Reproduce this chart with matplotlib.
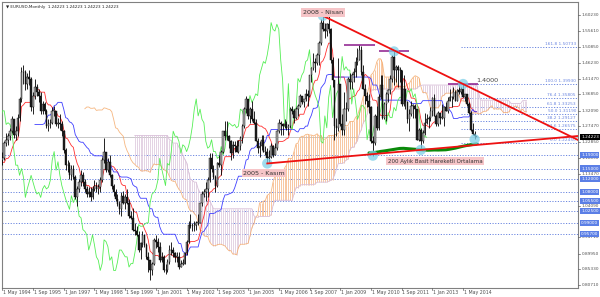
import numpy as np
import pandas as pd
import matplotlib
matplotlib.use("Agg")
import matplotlib.pyplot as plt

# ---------------- data: EURUSD monthly bars, Sep 1993 .. Dec 2014 ----------------
closes = [
    1.205, 1.170, 1.145, 1.125,                                                    # 1993 Sep-Dec
    1.120, 1.150, 1.170, 1.175, 1.180, 1.225, 1.235, 1.245, 1.260, 1.295, 1.250, 1.260,  # 1994
    1.300, 1.355, 1.435, 1.435, 1.400, 1.420, 1.415, 1.330, 1.365, 1.390, 1.375, 1.365,  # 1995
    1.320, 1.340, 1.320, 1.275, 1.280, 1.285, 1.320, 1.320, 1.280, 1.285, 1.280, 1.260,  # 1996
    1.205, 1.160, 1.160, 1.130, 1.150, 1.125, 1.065, 1.090, 1.110, 1.130, 1.110, 1.090,  # 1997
    1.075, 1.080, 1.065, 1.090, 1.100, 1.090, 1.095, 1.115, 1.175, 1.200, 1.145, 1.170,  # 1998
    1.130, 1.100, 1.080, 1.060, 1.045, 1.030, 1.070, 1.050, 1.065, 1.050, 1.010, 1.005,  # 1999
    0.970, 0.965, 0.955, 0.910, 0.930, 0.955, 0.925, 0.890, 0.880, 0.850, 0.870, 0.940,  # 2000
    0.935, 0.920, 0.880, 0.890, 0.850, 0.850, 0.875, 0.910, 0.910, 0.900, 0.890, 0.890,  # 2001
    0.860, 0.870, 0.870, 0.900, 0.935, 0.985, 0.980, 0.980, 0.985, 0.990, 0.990, 1.050,  # 2002
    1.075, 1.080, 1.090, 1.115, 1.180, 1.150, 1.125, 1.100, 1.165, 1.160, 1.200, 1.260,  # 2003
    1.245, 1.245, 1.230, 1.195, 1.220, 1.215, 1.200, 1.215, 1.240, 1.275, 1.325, 1.355,  # 2004
    1.305, 1.325, 1.295, 1.285, 1.230, 1.210, 1.215, 1.235, 1.200, 1.200, 1.180, 1.185,  # 2005
    1.215, 1.190, 1.210, 1.260, 1.285, 1.280, 1.275, 1.280, 1.270, 1.275, 1.325, 1.320,  # 2006
    1.300, 1.325, 1.335, 1.365, 1.345, 1.355, 1.370, 1.365, 1.425, 1.445, 1.465, 1.460,  # 2007
    1.485, 1.520, 1.580, 1.560, 1.555, 1.575, 1.560, 1.470, 1.410, 1.275, 1.270, 1.400,  # 2008
    1.280, 1.265, 1.325, 1.325, 1.415, 1.405, 1.425, 1.435, 1.465, 1.470, 1.500, 1.435,  # 2009
    1.385, 1.365, 1.350, 1.330, 1.230, 1.225, 1.305, 1.270, 1.360, 1.395, 1.300, 1.340,  # 2010
    1.370, 1.380, 1.415, 1.480, 1.440, 1.450, 1.440, 1.440, 1.340, 1.385, 1.345, 1.295,  # 2011
    1.310, 1.335, 1.335, 1.325, 1.235, 1.265, 1.230, 1.255, 1.285, 1.295, 1.300, 1.320,  # 2012
    1.357, 1.305, 1.280, 1.315, 1.300, 1.300, 1.330, 1.320, 1.350, 1.360, 1.360, 1.375,  # 2013
    1.350, 1.380, 1.375, 1.385, 1.360, 1.370, 1.340, 1.315, 1.263, 1.252, 1.245, 1.24223,  # 2014
]
highs = [
    1.235, 1.215, 1.180, 1.150,
    1.140, 1.160, 1.180, 1.185, 1.200, 1.230, 1.255, 1.255, 1.270, 1.305, 1.295, 1.275,
    1.310, 1.360, 1.450, 1.455, 1.440, 1.430, 1.440, 1.420, 1.375, 1.415, 1.400, 1.385,
    1.375, 1.350, 1.345, 1.325, 1.295, 1.295, 1.330, 1.335, 1.320, 1.300, 1.310, 1.290,
    1.265, 1.210, 1.175, 1.170, 1.160, 1.160, 1.130, 1.100, 1.120, 1.145, 1.140, 1.120,
    1.100, 1.095, 1.095, 1.100, 1.115, 1.110, 1.105, 1.125, 1.185, 1.240, 1.200, 1.180,
    1.190, 1.135, 1.105, 1.090, 1.075, 1.055, 1.080, 1.085, 1.075, 1.090, 1.060, 1.025,
    1.035, 0.990, 0.980, 0.965, 0.935, 0.965, 0.955, 0.930, 0.905, 0.875, 0.875, 0.945,
    0.955, 0.945, 0.935, 0.905, 0.895, 0.870, 0.885, 0.925, 0.935, 0.920, 0.905, 0.905,
    0.905, 0.880, 0.885, 0.905, 0.940, 0.995, 1.015, 0.990, 0.995, 0.995, 1.015, 1.050,
    1.085, 1.090, 1.110, 1.125, 1.195, 1.195, 1.160, 1.130, 1.170, 1.190, 1.205, 1.260,
    1.290, 1.290, 1.250, 1.235, 1.230, 1.230, 1.235, 1.235, 1.245, 1.280, 1.330, 1.365,
    1.355, 1.330, 1.350, 1.320, 1.295, 1.240, 1.230, 1.250, 1.250, 1.215, 1.210, 1.205,
    1.225, 1.220, 1.225, 1.265, 1.295, 1.290, 1.285, 1.295, 1.290, 1.280, 1.330, 1.335,
    1.325, 1.330, 1.340, 1.370, 1.365, 1.355, 1.385, 1.380, 1.425, 1.450, 1.490, 1.475,
    1.490, 1.525, 1.590, 1.600, 1.580, 1.580, 1.604, 1.565, 1.480, 1.410, 1.300, 1.475,
    1.400, 1.310, 1.375, 1.345, 1.420, 1.430, 1.430, 1.445, 1.480, 1.505, 1.515, 1.510,
    1.455, 1.400, 1.375, 1.370, 1.335, 1.245, 1.310, 1.335, 1.370, 1.425, 1.425, 1.345,
    1.375, 1.385, 1.425, 1.485, 1.495, 1.455, 1.455, 1.450, 1.440, 1.425, 1.385, 1.350,
    1.325, 1.350, 1.340, 1.340, 1.325, 1.270, 1.270, 1.265, 1.315, 1.310, 1.305, 1.330,
    1.360, 1.370, 1.310, 1.320, 1.315, 1.340, 1.335, 1.345, 1.360, 1.385, 1.365, 1.390,
    1.380, 1.385, 1.395, 1.390, 1.399, 1.370, 1.370, 1.345, 1.320, 1.285, 1.260, 1.24223,
]
lows = [
    1.175, 1.160, 1.135, 1.115,
    1.105, 1.110, 1.140, 1.160, 1.160, 1.175, 1.215, 1.220, 1.235, 1.255, 1.240, 1.235,
    1.245, 1.290, 1.345, 1.400, 1.380, 1.385, 1.395, 1.320, 1.310, 1.355, 1.365, 1.345,
    1.310, 1.310, 1.310, 1.270, 1.260, 1.270, 1.280, 1.305, 1.275, 1.270, 1.265, 1.245,
    1.195, 1.145, 1.140, 1.120, 1.115, 1.120, 1.060, 1.040, 1.080, 1.100, 1.100, 1.080,
    1.065, 1.065, 1.055, 1.060, 1.085, 1.080, 1.075, 1.080, 1.110, 1.165, 1.140, 1.140,
    1.125, 1.090, 1.070, 1.055, 1.040, 1.015, 1.010, 1.045, 1.030, 1.045, 1.005, 1.000,
    0.965, 0.955, 0.950, 0.905, 0.885, 0.920, 0.920, 0.885, 0.845, 0.823, 0.835, 0.865,
    0.915, 0.905, 0.875, 0.875, 0.845, 0.840, 0.845, 0.870, 0.895, 0.890, 0.875, 0.875,
    0.855, 0.860, 0.865, 0.870, 0.895, 0.930, 0.975, 0.965, 0.965, 0.970, 0.985, 0.990,
    1.040, 1.065, 1.055, 1.065, 1.110, 1.140, 1.120, 1.080, 1.095, 1.155, 1.130, 1.195,
    1.235, 1.235, 1.210, 1.175, 1.180, 1.200, 1.200, 1.195, 1.205, 1.225, 1.270, 1.315,
    1.295, 1.285, 1.290, 1.280, 1.230, 1.195, 1.185, 1.205, 1.200, 1.190, 1.165, 1.170,
    1.180, 1.185, 1.190, 1.205, 1.255, 1.250, 1.250, 1.270, 1.265, 1.250, 1.270, 1.310,
    1.285, 1.295, 1.305, 1.330, 1.340, 1.330, 1.350, 1.335, 1.360, 1.405, 1.440, 1.435,
    1.455, 1.455, 1.515, 1.555, 1.535, 1.540, 1.550, 1.460, 1.390, 1.235, 1.245, 1.260,
    1.275, 1.250, 1.250, 1.290, 1.320, 1.385, 1.385, 1.405, 1.420, 1.455, 1.470, 1.425,
    1.385, 1.340, 1.330, 1.315, 1.225, 1.188, 1.220, 1.265, 1.265, 1.355, 1.295, 1.295,
    1.290, 1.345, 1.370, 1.405, 1.395, 1.405, 1.390, 1.405, 1.335, 1.335, 1.325, 1.285,
    1.260, 1.305, 1.300, 1.300, 1.235, 1.230, 1.205, 1.225, 1.250, 1.280, 1.270, 1.290,
    1.305, 1.305, 1.275, 1.275, 1.280, 1.295, 1.275, 1.320, 1.315, 1.350, 1.330, 1.355,
    1.350, 1.350, 1.370, 1.370, 1.360, 1.350, 1.335, 1.310, 1.260, 1.250, 1.236, 1.24223,
]
first_visible = 8          # bar index of May 1994 (left edge of the chart)

x_tick_labels = ["1 May 1994", "1 Sep 1995", "1 Jan 1997", "1 May 1998", "1 Sep 1999",
                 "1 Jan 2001", "1 May 2002", "1 Sep 2003", "1 Jan 2005", "1 May 2006",
                 "1 Sep 2007", "1 Jan 2009", "1 May 2010", "1 Sep 2011", "1 Jan 2013",
                 "1 May 2014"]
x_tick_months = [0, 16, 32, 48, 64, 80, 96, 112, 128, 144, 160, 176, 192, 208, 224, 240]

price_ticks = [1.60230, 1.55610, 1.50850, 1.46230, 1.41470, 1.36850, 1.32090, 1.27470,
               1.22850, 1.18090, 1.13470, 1.04090, 0.94710, 0.89950, 0.85330, 0.80710]

h_levels = [1.19000, 1.15000, 1.12000, 1.08000, 1.05500, 1.02500, 0.99000, 0.95700]

fib_high = 1.39930
fib_low = 1.22450
fib_ratios = [0.0, 23.6, 38.2, 50.0, 61.8, 76.4, 100.0, 161.8]
fib_start_month = 239

current_price = 1.24223

# ---------------- derived series ----------------
C = np.array(closes); H = np.array(highs); L = np.array(lows)
O = np.concatenate([[C[0]], C[:-1]])     # monthly bars open at the prior close
n = len(C)
m = np.arange(n) - first_visible          # months since May 1994

Hs, Ls, Cs = pd.Series(H), pd.Series(L), pd.Series(C)
tenkan = (Hs.rolling(9).max() + Ls.rolling(9).min()) / 2
kijun = (Hs.rolling(26).max() + Ls.rolling(26).min()) / 2
spanA = ((tenkan + kijun) / 2).values
spanB = ((Hs.rolling(52).max() + Ls.rolling(52).min()) / 2).values
m_span = m + 26
chikou_m = m - 26
sma200 = Cs.rolling(200).mean()

# ---------------- figure ----------------
W, Hpx = 600, 297
fig = plt.figure(figsize=(6, 2.97), dpi=100)
ax_l, ax_r, ax_t, ax_b = 2, 578, 2, 288
ax = fig.add_axes([ax_l / W, 1 - ax_b / Hpx, (ax_r - ax_l) / W, (ax_b - ax_t) / Hpx])

px_per_month = 1.92
x0px = 2.3
def mx(px):
    return (px - x0px) / px_per_month
p_ref, y_ref, px_per_unit = 1.6023, 15.0, 339.5
def py(p):
    return y_ref + (p_ref - p) * px_per_unit
def yp(ypx):
    return p_ref - (ypx - y_ref) / px_per_unit

ax.set_xlim(mx(ax_l), mx(ax_r))
ax.set_ylim(yp(ax_b), yp(ax_t))
ax.set_xticks([]); ax.set_yticks([])
for s in ax.spines.values():
    s.set_color("#808080"); s.set_linewidth(0.8)

# horizontal dotted levels (full width)
for lv in h_levels:
    ax.axhline(lv, color="#6b86e0", lw=0.7, ls=(0, (1.2, 1.6)), zorder=1)

# fibonacci levels
rng = fib_high - fib_low
for r in fib_ratios:
    lv = fib_low + rng * r / 100
    ax.hlines(lv, fib_start_month, mx(ax_r), color="#6b86e0", lw=0.7,
              ls=(0, (1.2, 1.6)), zorder=1)
    ax.text(mx(576), lv + 0.003, f"{r:.1f} {lv:.5f}", fontsize=3.1, color="#6b86e0",
            ha="right", va="bottom", zorder=6)

# bid line
ax.axhline(current_price, color="#c8c8c8", lw=0.7, zorder=1)

# Ichimoku cloud (histogram hatch)
for j in range(n):
    a, b = spanA[j], spanB[j]
    if np.isnan(a) or np.isnan(b):
        continue
    col = "#f6b887" if a >= b else "#dcc8dc"
    ax.vlines(m_span[j], min(a, b), max(a, b), color=col, lw=0.55, zorder=2)
ax.plot(m_span, spanA, color="#f4a460", lw=0.6, alpha=0.8, zorder=2)
ax.plot(m_span, spanB, color="#d8bfd8", lw=0.6, zorder=2)

# Tenkan, Kijun, Chikou
ax.plot(m, tenkan, color="#ff3030", lw=0.6, zorder=4)
ax.plot(m, kijun, color="#3f3fff", lw=0.6, zorder=4)
ax.plot(chikou_m, C, color="#55ee55", lw=0.6, zorder=4)

# candles
ax.vlines(m, L, H, color="black", lw=0.6, zorder=5)
bull = C >= O
body_h = np.maximum(np.abs(C - O), 0.0015)
ax.bar(m[bull], body_h[bull], bottom=np.minimum(O, C)[bull], width=0.8,
       color="#a8a8a8", edgecolor="black", linewidth=0.3, zorder=5)
ax.bar(m[~bull], body_h[~bull], bottom=np.minimum(O, C)[~bull], width=0.8,
       color="#202020", edgecolor="black", linewidth=0.3, zorder=5)

# 200-month SMA
ax.plot(m, sma200, color="#0a8a0a", lw=2.2, zorder=6, solid_capstyle="round")

# ---------------- annotations ----------------
def idx(year, month):
    return (year - 1993) * 12 + (month - 9)

hi08, hi09, hi11, hi14 = idx(2008, 4), idx(2009, 11), idx(2011, 5), idx(2014, 5)
lo05, lo10, lo12, lo14 = idx(2005, 11), idx(2010, 6), idx(2012, 7), idx(2014, 11)

# purple marks on highs
for j in (hi08, hi09, hi11, hi14):
    ax.hlines(H[j], m[j] - 8, m[j] + 8, color="#8b1a8b", lw=1.1, zorder=7)

# circles
pts_m = [m[hi08], m[hi11], m[hi14], m[lo05], m[lo10], m[lo12], m[lo14]]
pts_p = [H[hi08], H[hi11], H[hi14], L[lo05], L[lo10], L[lo12], L[lo14]]
ax.scatter(pts_m, pts_p, s=55, color="#7fd0e8", alpha=0.75, edgecolors="none", zorder=8)

# red trend lines (to the right edge of the chart)
end_m = mx(ax_r)
sl_u = (H[hi14] - H[hi08]) / (m[hi14] - m[hi08])
ax.plot([m[hi08], end_m], [H[hi08], H[hi08] + sl_u * (end_m - m[hi08])],
        color="#ee1111", lw=1.3, zorder=9)
sl_l = (L[lo12] - L[lo05]) / (m[lo12] - m[lo05])
ax.plot([m[lo05], end_m], [L[lo05], L[lo05] + sl_l * (end_m - m[lo05])],
        color="#ee1111", lw=1.3, zorder=9)

box = dict(boxstyle="square,pad=0.25", fc="#f6c5c8", ec="none")
ax.text(m[hi08], yp(12.5), "2008 - Nisan", fontsize=4.6, color="#333333",
        ha="center", va="center", bbox=box, zorder=10)
ax.text(mx(264), yp(173), "2005 - Kasım", fontsize=4.6, color="#333333",
        ha="center", va="center", bbox=box, zorder=10)
ax.text(mx(435), yp(161), "200 Aylık Basit Hareketli Ortalama", fontsize=4.0,
        color="#333333", ha="center", va="center", bbox=box, zorder=10)
ax.text(mx(487), yp(80), "1.4000", fontsize=4.6, color="#444444",
        ha="center", va="center", zorder=10)

# title
ax.text(mx(6), yp(7), "\u25BC EURUSD,Monthly  1.24223 1.24223 1.24223 1.24223",
        fontsize=3.0, color="#222222", ha="left", va="center", zorder=10)

# ---------------- axes labels (right and bottom) ----------------
for p in price_ticks:
    y = py(p)
    fig.lines.append(plt.Line2D([ax_r / W, (ax_r + 2) / W], [1 - y / Hpx] * 2,
                                transform=fig.transFigure, color="#606060", lw=0.5))
    fig.text((ax_r + 3.5) / W, 1 - y / Hpx, f"{p:.5f}", fontsize=3.1, color="#505050",
             ha="left", va="center", zorder=1)

for lv in h_levels:
    y = py(lv)
    fig.text((ax_r + 3) / W, 1 - y / Hpx, f"{lv:.5f}", fontsize=3.1, color="white",
             ha="left", va="center", zorder=5,
             bbox=dict(boxstyle="square,pad=0.25", fc="#5b7fe6", ec="none"))

y = py(current_price)
fig.text((ax_r + 3) / W, 1 - y / Hpx, f"{current_price:.5f}", fontsize=3.1,
         color="white", ha="left", va="center", zorder=5,
         bbox=dict(boxstyle="square,pad=0.25", fc="black", ec="none"))

for mm, lab in zip(x_tick_months, x_tick_labels):
    xp = x0px + px_per_month * mm
    fig.lines.append(plt.Line2D([xp / W] * 2, [1 - ax_b / Hpx, 1 - (ax_b + 2) / Hpx],
                                transform=fig.transFigure, color="#606060", lw=0.5))
    fig.text((xp + 0.8) / W, 1 - 292.5 / Hpx, lab, fontsize=3.4, color="#505050",
             ha="left", va="center")

fig.savefig("out.png", dpi=100)
